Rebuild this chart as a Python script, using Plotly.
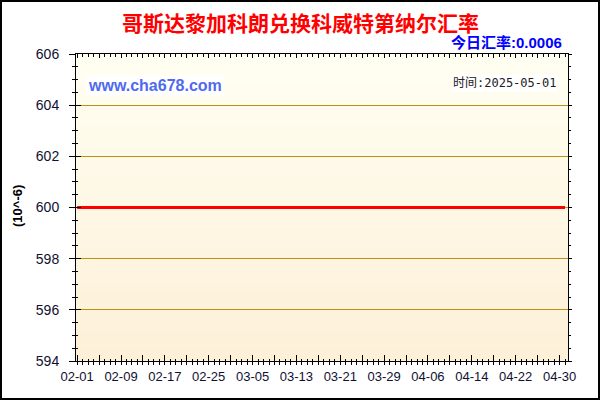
import plotly.graph_objects as go
import pandas as pd

# ---- data ----
dates = pd.date_range("2025-02-01", "2025-05-01", freq="D").strftime("%Y-%m-%d").tolist()
rates = [
    600, 600, 600, 600, 600, 600, 600, 600, 600, 600,
    600, 600, 600, 600, 600, 600, 600, 600, 600, 600,
    600, 600, 600, 600, 600, 600, 600, 600, 600, 600,
    600, 600, 600, 600, 600, 600, 600, 600, 600, 600,
    600, 600, 600, 600, 600, 600, 600, 600, 600, 600,
    600, 600, 600, 600, 600, 600, 600, 600, 600, 600,
    600, 600, 600, 600, 600, 600, 600, 600, 600, 600,
    600, 600, 600, 600, 600, 600, 600, 600, 600, 600,
    600, 600, 600, 600, 600, 600, 600, 600, 600, 600,
]
label_dates = ["2025-02-01", "2025-02-09", "2025-02-17", "2025-02-25", "2025-03-05", "2025-03-13",
               "2025-03-21", "2025-03-29", "2025-04-06", "2025-04-14", "2025-04-22", "2025-04-30"]
tick_labels = ["02-01", "02-09", "02-17", "02-25", "03-05", "03-13",
               "03-21", "03-29", "04-06", "04-14", "04-22", "04-30"]
title_text = "哥斯达黎加科朗兑换科威特第纳尔汇率"
today_text = "今日汇率:0.0006"
site_text = "www.cha678.com"
time_text = "时间:2025-05-01"
unit_text = "(10^-6)"
y_range = [594, 606]

# ---- layout geometry (pixels) ----
W, H = 600, 400
L, R, T, B = 76, 32, 54, 39
pw, ph = W - L - R, H - T - B

def px(x):
    return (x - L) / pw

def py(y):
    return (H - B - y) / ph

# major ticks every 4 days, labels every 8
major4 = pd.date_range("2025-02-01", "2025-05-01", freq="4D").strftime("%Y-%m-%d").tolist()
lab_map = dict(zip(label_dates, tick_labels))
major4_text = [lab_map.get(d, "") for d in major4]

x_range = ["2025-01-31 19:00", "2025-05-01 13:00"]
DAY = 86400000

fig = go.Figure()
fig.add_trace(go.Scatter(x=dates, y=rates, mode="lines",
                         line=dict(color="#FF0000", width=3),
                         hoverinfo="skip", showlegend=False))
# helper traces so overlay axes are drawn
for xa, ya in [("x2", "y"), ("x3", "y"), ("x", "y2"), ("x", "y3")]:
    fig.add_trace(go.Scatter(x=dates[:1], y=rates[:1], mode="lines", xaxis=xa, yaxis=ya,
                             line=dict(width=0), opacity=0, hoverinfo="skip", showlegend=False))

tickfont = dict(family="Liberation Sans, Arial, sans-serif", size=13, color="#101030")

# gradient background bands
N = 60
top = (255, 255, 242)
bot = (253, 240, 216)
shapes = []
for i in range(N):
    t = (i + 0.5) / N
    c = tuple(round(bot[k] + (top[k] - bot[k]) * t) for k in range(3))
    shapes.append(dict(type="rect", xref="paper", yref="paper",
                       x0=0, x1=1, y0=i / N, y1=min(1, (i + 1.6) / N),
                       fillcolor="rgb(%d,%d,%d)" % c, line=dict(width=0), layer="below"))
# outer border
shapes.append(dict(type="rect", xref="paper", yref="paper",
                   x0=px(1), x1=px(599), y0=py(399), y1=py(1),
                   line=dict(color="black", width=2), fillcolor="rgba(0,0,0,0)", layer="above"))

fig.update_layout(
    width=W, height=H,
    margin=dict(l=L, r=R, t=T, b=B, pad=0),
    paper_bgcolor="white", plot_bgcolor="rgba(0,0,0,0)",
    showlegend=False,
    shapes=shapes,
    xaxis=dict(type="date", range=x_range, anchor="y",
               tickmode="array", tickvals=major4, ticktext=major4_text,
               ticks="outside", ticklen=3, tickcolor="black", tickwidth=1,
               minor=dict(dtick=DAY, tick0="2025-02-01", ticks="outside", ticklen=3, tickcolor="black"),
               showline=True, linecolor="black", linewidth=1,
               showgrid=False, zeroline=False, tickfont=tickfont, fixedrange=True),
    xaxis2=dict(type="date", range=x_range, overlaying="x", anchor="y", side="bottom",
                tickmode="array", tickvals=major4, ticks="inside", ticklen=6, tickcolor="black",
                minor=dict(dtick=DAY, tick0="2025-02-01", ticks="inside", ticklen=2, tickcolor="black"),
                showticklabels=False, showline=False, showgrid=False, zeroline=False),
    xaxis3=dict(type="date", range=x_range, overlaying="x", anchor="y", side="top",
                tickmode="array", tickvals=major4, ticks="inside", ticklen=4, tickcolor="black",
                minor=dict(dtick=DAY, tick0="2025-02-01", ticks="inside", ticklen=3, tickcolor="black"),
                showticklabels=False, showline=True, linecolor="black", linewidth=1,
                showgrid=False, zeroline=False),
    yaxis=dict(range=y_range, anchor="x", tick0=594, dtick=2,
               ticks="outside", ticklen=6, tickcolor="black",
               minor=dict(dtick=0.5, tick0=594, ticks="outside", ticklen=3, tickcolor="black"),
               showline=True, linecolor="black", linewidth=1,
               showgrid=True, gridcolor="#BE8F10", gridwidth=1, zeroline=False,
               tickfont=dict(family="Liberation Sans, Arial, sans-serif", size=14, color="#101030"),
               ticklabelstandoff=7, fixedrange=True),
    yaxis2=dict(range=y_range, overlaying="y", anchor="x", side="left", tick0=594, dtick=2,
                ticks="inside", ticklen=5, tickcolor="black",
                minor=dict(dtick=0.5, tick0=594, ticks="inside", ticklen=2, tickcolor="black"),
                showticklabels=False, showline=False, showgrid=False, zeroline=False),
    yaxis3=dict(range=y_range, overlaying="y", anchor="x", side="right", tick0=594, dtick=2,
                ticks="outside", ticklen=3, tickcolor="black",
                minor=dict(dtick=0.5, tick0=594, ticks="outside", ticklen=2, tickcolor="black"),
                showticklabels=False, showline=True, linecolor="black", linewidth=1,
                showgrid=False, zeroline=False),
    annotations=[
        dict(text="<b>%s</b>" % title_text, xref="paper", yref="paper", x=px(300), y=py(22),
             xanchor="center", yanchor="middle", showarrow=False,
             font=dict(family="Noto Sans CJK SC", size=21, color="#FF0000")),
        dict(text="<b>%s</b>" % today_text, xref="paper", yref="paper", x=px(564), y=py(43),
             xanchor="right", yanchor="middle", showarrow=False,
             font=dict(family="Liberation Sans, Noto Sans CJK SC", size=15, color="#0000FF")),
        dict(text="<b>%s</b>" % site_text, xref="paper", yref="paper", x=px(86), y=py(85),
             xanchor="left", yanchor="middle", showarrow=False, bgcolor="white",
             font=dict(family="Liberation Sans, Arial, sans-serif", size=16, color="#4F6AEE")),
        dict(text=time_text, xref="paper", yref="paper", x=px(558), y=py(83),
             xanchor="right", yanchor="middle", showarrow=False, bgcolor="white",
             font=dict(family="DejaVu Sans Mono, Noto Sans CJK SC", size=12, color="#202020")),
        dict(text="<b>%s</b>" % unit_text, xref="paper", yref="paper", x=px(17), y=py(206),
             xanchor="center", yanchor="middle", showarrow=False, textangle=-90,
             font=dict(family="Liberation Sans, Arial, sans-serif", size=13, color="#000000")),
    ],
)

fig.write_html("out.html", config={"displayModeBar": False},
               post_script="document.body.style.margin='0px';document.body.style.padding='0px';")
